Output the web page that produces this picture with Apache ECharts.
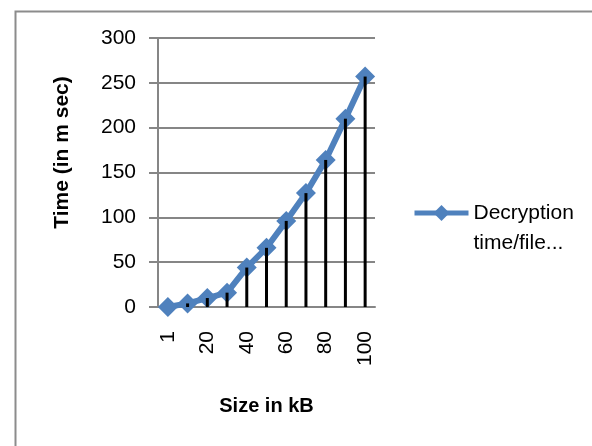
<!DOCTYPE html>
<html>
<head>
<meta charset="utf-8">
<script src="https://cdn.jsdelivr.net/npm/echarts@6/dist/echarts.min.js"></script>
<style>html,body{margin:0;padding:0;background:#fff}#c{width:592px;height:446px}</style>
</head>
<body>
<div id="c"></div>
<script>
var categories = ['1','10','20','30','40','50','60','70','80','90','100'];
var decryptTime = [0, 4, 10, 16, 44, 66, 96, 127, 164, 210, 257];
var seriesName = 'Decryption time/file...';
var yTicks = {min: 0, max: 300, interval: 50};

var chart = echarts.init(document.getElementById('c'));
var F = '"Liberation Sans", Arial, sans-serif';
chart.setOption({
  backgroundColor: '#fff',
  animation: false,
  graphic: [{
    type: 'rect', left: 13, top: 9, shape: {x: 0, y: 0, width: 700, height: 600},
    style: {fill: 'none', stroke: '#8c8c8c', lineWidth: 2}, z: -1
  }],
  grid: {left: 158, top: 38, right: 217, bottom: 139, containLabel: false},
  legend: {
    left: 412, top: 168, orient: 'vertical', padding: 0,
    itemWidth: 54, itemHeight: 20, itemGap: 6,
    lineStyle: {width: 5},
    formatter: function () { return '\u00a0\nDecryption\ntime/file...'; },
    textStyle: {fontFamily: F, fontSize: 21, color: '#000', lineHeight: 30},
    data: [{name: seriesName}]
  },
  xAxis: {
    type: 'category', data: categories, boundaryGap: true,
    name: 'Size in kB', nameLocation: 'middle', nameGap: 89,
    nameTextStyle: {fontFamily: F, fontSize: 20, fontWeight: 'bold', color: '#000'},
    axisLine: {lineStyle: {color: '#868686', width: 2}},
    axisTick: {show: false},
    axisLabel: {interval: 1, rotate: 90, margin: 24, fontFamily: F, fontSize: 21, color: '#000'}
  },
  yAxis: {
    type: 'value', min: yTicks.min, max: yTicks.max, interval: yTicks.interval,
    name: 'Time (in m sec)', nameLocation: 'middle', nameGap: 85,
    nameTextStyle: {fontFamily: F, fontSize: 21, fontWeight: 'bold', color: '#000', padding: [0, 0, 0, 40]},
    axisLine: {show: true, lineStyle: {color: '#868686', width: 2}},
    axisTick: {show: true, length: 9, lineStyle: {color: '#868686', width: 2}},
    splitLine: {lineStyle: {color: '#868686', width: 2}},
    axisLabel: {margin: 22, fontFamily: F, fontSize: 21, color: '#000'}
  },
  series: [{
    name: seriesName, type: 'line', data: decryptTime,
    symbol: 'diamond', symbolSize: 20, showSymbol: true, showAllSymbol: true,
    lineStyle: {color: '#4F81BD', width: 6},
    itemStyle: {color: '#4F81BD'}, z: 2
  }, {
    name: 'drop', type: 'bar', data: decryptTime, barWidth: 3,
    itemStyle: {color: '#000'}, z: 3, legendHoverLink: false
  }]
});
</script>
</body>
</html>
